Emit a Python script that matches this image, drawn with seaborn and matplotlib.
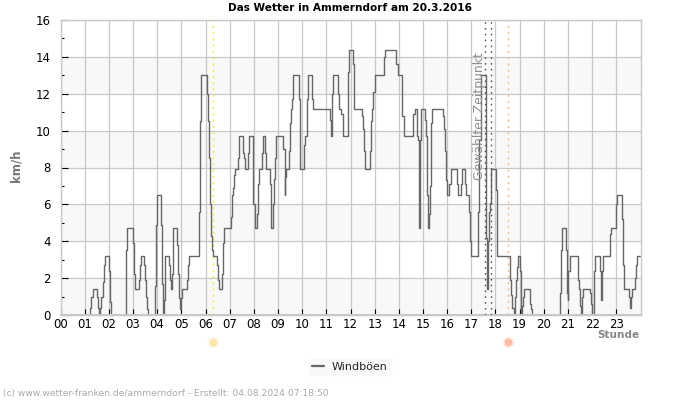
import numpy as np
import seaborn as sns
import matplotlib
matplotlib.use('Agg')
import matplotlib.pyplot as plt

# gust readings: time of each change (hours) and value (km/h), 10 per row
hours = [0, 1.24, 1.28, 1.33, 1.51, 1.55, 1.59, 1.65, 1.69, 1.74,
         1.79, 1.83, 2.02, 2.06, 2.11, 2.69, 2.73, 2.77, 3.02, 3.06,
         3.09, 3.26, 3.30, 3.35, 3.44, 3.48, 3.52, 3.56, 3.60, 3.93,
         3.97, 4.01, 4.17, 4.21, 4.25, 4.29, 4.31, 4.34, 4.50, 4.54,
         4.58, 4.61, 4.64, 4.67, 4.83, 4.87, 4.91, 4.95, 4.99, 5.03,
         5.25, 5.29, 5.33, 5.74, 5.78, 5.83, 6.05, 6.09, 6.13, 6.17,
         6.21, 6.25, 6.29, 6.46, 6.50, 6.54, 6.69, 6.73, 6.77, 7.04,
         7.08, 7.14, 7.18, 7.22, 7.34, 7.38, 7.56, 7.60, 7.64, 7.74,
         7.78, 7.98, 8.03, 8.15, 8.19, 8.22, 8.32, 8.38, 8.48, 8.52,
         8.65, 8.69, 8.73, 8.81, 8.85, 8.89, 8.92, 9.22, 9.27, 9.31,
         9.35, 9.47, 9.51, 9.55, 9.58, 9.64, 9.85, 9.89, 9.93, 10.07,
         10.11, 10.20, 10.25, 10.40, 10.45, 11.16, 11.20, 11.24, 11.29, 11.49,
         11.53, 11.60, 11.67, 11.90, 11.95, 12.10, 12.14, 12.47, 12.51, 12.55,
         12.59, 12.82, 12.86, 12.90, 12.95, 13.00, 13.39, 13.43, 13.89, 13.95,
         14.15, 14.20, 14.60, 14.65, 14.75, 14.78, 14.82, 14.86, 14.90, 15.08,
         15.12, 15.17, 15.21, 15.25, 15.29, 15.33, 15.37, 15.83, 15.87, 15.92,
         15.96, 16.00, 16.08, 16.14, 16.42, 16.46, 16.57, 16.61, 16.74, 16.78,
         16.90, 16.94, 16.98, 17.28, 17.33, 17.38, 17.41, 17.59, 17.62, 17.66,
         17.70, 17.73, 17.78, 17.82, 18.02, 18.05, 18.08, 18.58, 18.61, 18.63,
         18.68, 18.76, 18.80, 18.84, 18.88, 18.92, 19.00, 19.04, 19.08, 19.12,
         19.16, 19.41, 19.45, 19.49, 20.65, 20.70, 20.75, 20.90, 20.94, 20.98,
         21.02, 21.07, 21.40, 21.44, 21.50, 21.54, 21.58, 21.63, 21.90, 21.94,
         21.98, 22.08, 22.12, 22.33, 22.37, 22.40, 22.45, 22.75, 22.79, 23.00,
         23.04, 23.25, 23.28, 23.32, 23.52, 23.56, 23.60, 23.64, 23.77, 23.82,
         23.86, 24.0]
gust = [0, 0.4, 1, 1.4, 1, 0.4, 0, 0.4, 1, 1.8,
        2.7, 3.2, 2.4, 0.7, 0, 1.1, 3.5, 4.7, 3.9, 2.2,
        1.4, 1.9, 2.7, 3.2, 2.7, 1.9, 1, 0.3, 0, 1.6,
        4.9, 6.5, 4.9, 1.7, 0, 0.8, 2.4, 3.2, 2.7, 1.9,
        1.4, 2.2, 3.8, 4.7, 3.8, 2.2, 0.9, 0.3, 0.9, 1.4,
        1.9, 2.7, 3.2, 5.6, 10.5, 13, 12, 10.5, 8.5, 6,
        4.3, 3.5, 3.2, 2.7, 1.9, 1.4, 2.2, 3.9, 4.7, 5.3,
        6.5, 6.9, 7.6, 7.9, 8.5, 9.7, 8.8, 8.5, 7.9, 8.8,
        9.7, 6, 4.7, 5.5, 7.1, 7.9, 8.8, 9.7, 8.8, 7.9,
        7.1, 6, 4.7, 6, 7.4, 8.5, 9.7, 9, 6.5, 7.5,
        7.9, 8.9, 10.4, 11.2, 11.7, 13, 11.7, 8.9, 7.9, 9.2,
        9.7, 11.7, 13, 11.7, 11.2, 10.6, 9.7, 12, 13, 12,
        11.2, 10.9, 9.7, 13.2, 14.4, 13.6, 11.2, 10.8, 10.1, 8.9,
        7.9, 8.9, 10.5, 11.2, 12.1, 13, 14, 14.4, 13.6, 13,
        10.8, 9.7, 10.9, 11.2, 9.7, 9.5, 4.7, 9.5, 11.2, 10.6,
        9.7, 6.5, 4.7, 5.5, 7, 10.4, 11.2, 10.8, 10.1, 8.9,
        7.3, 6.5, 7.1, 7.9, 7.1, 6.5, 7.1, 7.9, 7.1, 6.5,
        5.6, 4, 3.2, 5.6, 9.5, 11.2, 13, 10.5, 4.2, 1.4,
        4, 5.6, 6.1, 7.9, 6.8, 4.3, 3.2, 2.7, 1.9, 1.1,
        0.4, 0, 1, 1.9, 2.6, 3.2, 2.4, 0.1, 0.5, 1,
        1.4, 0.6, 0.3, 0, 1.2, 3.5, 4.7, 3.5, 1.2, 0.8,
        2.4, 3.2, 1.9, 1.4, 0.5, 0, 1, 1.4, 1.2, 0.6,
        0, 2.4, 3.2, 2.4, 0.8, 2.4, 3.2, 4.4, 4.7, 6,
        6.5, 5.2, 2.7, 1.4, 1, 0.4, 1, 1.4, 2, 2.7,
        3.2, 3.2]
hour_labels = ['%02d' % h for h in range(24)]
y_labels = [0, 2, 4, 6, 8, 10, 12, 14, 16]
bands = [0, 4, 8, 12]
sunrise = 6.3
sunset = 18.5
selected = [17.58, 17.83]

sns.set_style('white')
plt.rcParams['font.family'] = ['DejaVu Sans']

fig = plt.figure(figsize=(7, 4), dpi=100)
ax = fig.add_axes([60.5/700, 1-315/400, 580/700, 295/400])

for b in bands:
    ax.axhspan(b, b+2, color='#f8f8f8', lw=0, zorder=0)

sns.lineplot(x=hours, y=gust, ax=ax, color='#666666', lw=1, drawstyle='steps-post',
             errorbar=None, estimator=None, sort=False, label='Windböen', zorder=3)

ax.set_xlim(0, 24)
ax.set_ylim(0, 16)
ax.set_xticks(range(24))
ax.set_xticklabels(hour_labels, fontsize=8.5)
ax.set_yticks(y_labels)
ax.set_yticklabels(y_labels, fontsize=8.5)
ax.set_yticks(np.arange(1, 16, 2), minor=True)
ax.tick_params(axis='both', which='major', direction='in', length=4, width=0.8, color='black', pad=3, labelcolor='black')
ax.tick_params(axis='y', which='major', length=5, pad=7, left=True)
ax.tick_params(axis='y', which='minor', direction='in', length=2, width=0.8, color='black', left=True)
ax.tick_params(axis='x', which='major', bottom=True, pad=2)
ax.grid(True, color='#c8c8c8', lw=0.9, zorder=1)
ax.set_axisbelow(True)
for s in ax.spines.values():
    s.set_color('#c8c8c8')
    s.set_linewidth(1)
    s.set_zorder(4)
# the zero level stays light, as in the reference
ax.axhline(0, color='#c8c8c8', lw=1.5, zorder=3.5, clip_on=False)

ax.axvline(sunrise, color='#f0e840', lw=1, ls=(0, (1.5, 3)), zorder=2)
ax.axvline(sunset, color='#f0bd7a', lw=1, ls=(0, (1.5, 3)), zorder=2)
for t in selected:
    ax.axvline(t, color='#555555', lw=1, ls=(0, (1.2, 3)), zorder=4)
ax.text(17.32, 7.3, 'Gewählter Zeitpunkt', rotation=90, fontsize=8.9, color='#8f8f8f',
        ha='center', va='bottom', zorder=5)

# sun symbols under the axis
ax.plot([sunrise], [-1.45], marker=(12, 1, 0), ms=9, mew=0, color='#fbe6a6', clip_on=False)
ax.plot([sunset], [-1.45], marker=(12, 1, 0), ms=9, mew=0, color='#fbb9a0', clip_on=False)

leg = ax.legend(loc='center', bbox_to_anchor=(350/700, 1-367/400), bbox_transform=fig.transFigure,
                frameon=True, facecolor='#f8f8f8', edgecolor='#f8f8f8', fancybox=False, fontsize=8,
                handlelength=1.1, borderpad=0.25, handletextpad=0.7, framealpha=1)
leg.get_lines()[0].set_linewidth(1.6)

fig.text(350/700, 1-8/400, 'Das Wetter in Ammerndorf am 20.3.2016', fontsize=7.6, fontweight='bold',
         ha='center', va='center', color='black')
fig.text(16/700, 1-166/400, 'km/h', fontsize=8.5, fontweight='bold', rotation=90,
         ha='center', va='center', color='#777777')
fig.text(639/700, 1-335/400, 'Stunde', fontsize=7.6, fontweight='bold',
         ha='right', va='center', color='#888888')
fig.text(3/700, 1-393.5/400, '(c) www.wetter-franken.de/ammerndorf - Erstellt: 04.08.2024 07:18:50',
         fontsize=6.6, ha='left', va='center', color='#aaaaaa')

fig.savefig('out.png', dpi=100)
